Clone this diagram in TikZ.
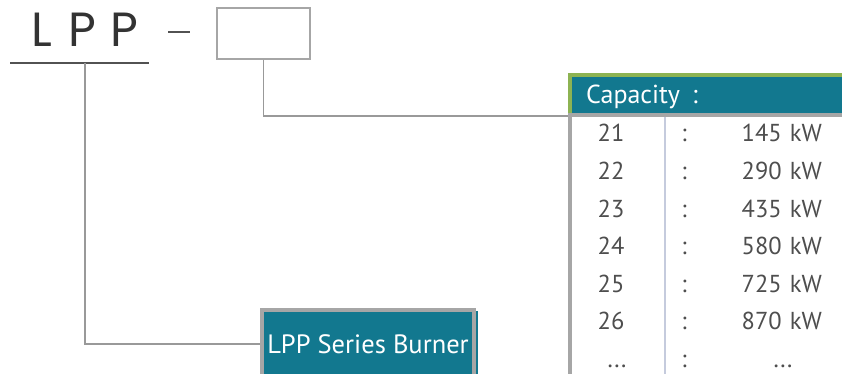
\documentclass[tikz,border=0pt]{standalone}
\usepackage{fontspec}
\setmainfont{PT Sans}
\newfontfamily\logofont{Poppins}
\usepackage{xcolor}
\definecolor{tealbg}{RGB}{18,120,143}
\definecolor{greenbar}{RGB}{141,179,82}
\definecolor{framegray}{RGB}{166,166,166}
\definecolor{divline}{RGB}{197,203,221}
\definecolor{numgray}{RGB}{78,78,78}
\definecolor{logogray}{RGB}{51,51,51}
\usetikzlibrary{positioning}
\tikzstyle{logo} = [
    text=logogray, inner sep=0pt, anchor=base,
    font=\logofont\fontsize{48}{48}\selectfont,
]
\tikzstyle{rule} = [draw=logogray!85, line width=2pt]
\tikzstyle{wire} = [draw=gray!80, line width=1.3pt]
\tikzstyle{num} = [
    text=numgray, inner sep=0pt, anchor=base,
    font=\fontsize{24.5}{24.5}\selectfont,
]
\tikzstyle{val} = [num, anchor=base east]

\begin{document}
\begin{tikzpicture}[x=1pt,y=-1pt]
    \useasboundingbox (0,0) rectangle (842,374);

    % model code
    \node[logo] (lpp) at (85,47) {L\hspace{16pt}P\hspace{14pt}P};
    \draw[rule] (10,63) -- (149,63);
    \coordinate (bar) at (85,63);
    \draw[rule] (168,32) -- (190,32);
    \node[draw=framegray, line width=1.2pt, minimum width=93pt, minimum height=51pt, inner sep=0pt] (code) at (263.5,33.5) {};

    % capacity panel
    \fill[greenbar] (568,73) rectangle (842,77);
    \fill[greenbar] (568,73) rectangle (572,113);
    \node[fill=tealbg, anchor=north west, minimum width=270pt, minimum height=36pt, inner sep=0pt] (head) at (572,77) {};
    \node[anchor=base west, inner sep=0pt, text=white, font=\fontsize{26}{26}\selectfont] (headtext) at (586,104) {Capacity\hspace{12pt}:};
    \fill[framegray] (568,113) rectangle (842,117);
    \fill[framegray] (568,113) rectangle (572,374);
    \fill[divline] (664,117) rectangle (666,374);
    \coordinate (panel) at (568,116);

    \node[num] (n21) at (611,142) {21};
    \node[num] (c21) at (684,142) {:};
    \node[val] (v21) at (822,142) {145\hspace{8pt}kW};

    \node[num] (n22) at (611,179.5) {22};
    \node[num] (c22) at (684,179.5) {:};
    \node[val] (v22) at (822,179.5) {290\hspace{8pt}kW};

    \node[num] (n23) at (611,217) {23};
    \node[num] (c23) at (684,217) {:};
    \node[val] (v23) at (822,217) {435\hspace{8pt}kW};

    \node[num] (n24) at (611,254.5) {24};
    \node[num] (c24) at (684,254.5) {:};
    \node[val] (v24) at (822,254.5) {580\hspace{8pt}kW};

    \node[num] (n25) at (611,292) {25};
    \node[num] (c25) at (684,292) {:};
    \node[val] (v25) at (822,292) {725\hspace{8pt}kW};

    \node[num] (n26) at (611,329.5) {26};
    \node[num] (c26) at (684,329.5) {:};
    \node[val] (v26) at (822,329.5) {870\hspace{8pt}kW};

    \node[num] (nmore) at (617,367) {...};
    \node[num] (cmore) at (684,367) {:};
    \node[num] (vmore) at (783,367) {...};

    % series box
    \fill[tealbg] (470,311) rectangle (478,374);
    \node[fill=tealbg, draw=framegray, line width=4pt, minimum width=212pt, minimum height=68pt, inner sep=0pt,
        text=white, font=\fontsize{26.5}{26.5}\selectfont] (burner) at (368,344) {LPP Series Burner};

    \draw[wire] (code.south) |- (panel);
    \draw[wire] (bar) |- (burner.west);

\end{tikzpicture}
\end{document}
